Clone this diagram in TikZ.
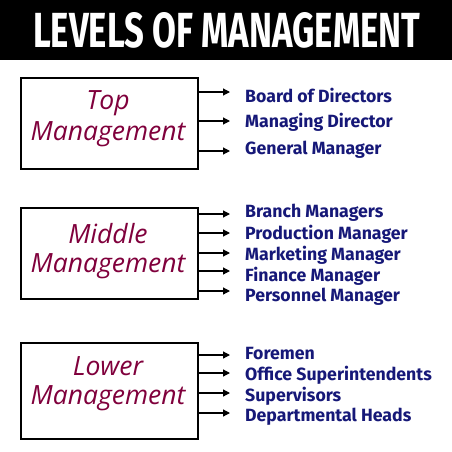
\documentclass[tikz,border=0pt]{standalone}
\usepackage{fontspec}
\setmainfont{Fira Sans}
\newfontfamily\titlefont{Fira Sans}
\newfontfamily\boxfont{Open Sans}
\newfontfamily\labfont{Fira Sans}
\usetikzlibrary{arrows.meta}
\definecolor{maroon}{RGB}{128,0,60}
\definecolor{navy}{RGB}{22,24,120}
\tikzset{
  lvlbox/.style={draw=black, line width=1.6pt, fill=white},
  lvltext/.style={anchor=base, text=maroon, font=\boxfont\itshape\fontsize{26.5}{26.5}\selectfont, inner sep=0pt},
  lab/.style={anchor=west, text=navy, font=\labfont\bfseries\fontsize{17.7}{17.7}\selectfont, inner sep=0pt},
  arr/.style={-{Triangle[length=7pt,width=7pt]}, line width=1.2pt, black}
}
\begin{document}
\begin{tikzpicture}[x=1pt,y=-1pt]
\useasboundingbox (0,0) rectangle (452,452);
\fill[white] (0,0) rectangle (452,452);
\fill[black] (0,0) rectangle (452,60);
\node[anchor=base west, inner sep=0pt, text=white] (title) at (33,48)
  {\resizebox{387pt}{35pt}{\titlefont\fontseries{sb}\selectfont LEVELS OF MANAGEMENT}};

% Top
\node[lvlbox, minimum width=177pt, minimum height=91pt, anchor=north west] (top) at (20,77) {};
\node[lvltext] (topa) at (108,109) {Top};
\node[lvltext] (topb) at (108,140) {Management};
\foreach \n/\ay/\ly/\t in {t1/92/95/Board of Directors, t2/121/122/Managing Director, t3/151/150/General Manager}{
  \coordinate (\n) at (230,\ay);
  \node[lab] (\n l) at (245,\ly) {\t};
  \draw[arr] (top.east |- \n) -- (\n);
}

% Middle
\node[lvlbox, minimum width=177pt, minimum height=91pt, anchor=north west] (mid) at (20,207) {};
\node[lvltext] (mida) at (108,243) {Middle};
\node[lvltext] (midb) at (108,272) {Management};
\foreach \n/\ay/\ly/\t in {m1/214/213/Branch Managers, m2/233/234/Production Manager, m3/253/255/Marketing Manager, m4/271/276/Finance Manager, m5/291/297/Personnel Manager}{
  \coordinate (\n) at (230,\ay);
  \node[lab] (\n l) at (245,\ly) {\t};
  \draw[arr] (mid.east |- \n) -- (\n);
}

% Lower
\node[lvlbox, minimum width=177pt, minimum height=96pt, anchor=north west] (low) at (20,342) {};
\node[lvltext] (lowa) at (108,375) {Lower};
\node[lvltext] (lowb) at (108,404) {Management};
\foreach \n/\ay/\ly/\t in {l1/355/354/Foremen, l2/373/375/Office Superintendents, l3/393/396/Supervisors, l4/413/417/Departmental Heads}{
  \coordinate (\n) at (230,\ay);
  \node[lab] (\n l) at (245,\ly) {\t};
  \draw[arr] (low.east |- \n) -- (\n);
}
\end{tikzpicture}
\end{document}
